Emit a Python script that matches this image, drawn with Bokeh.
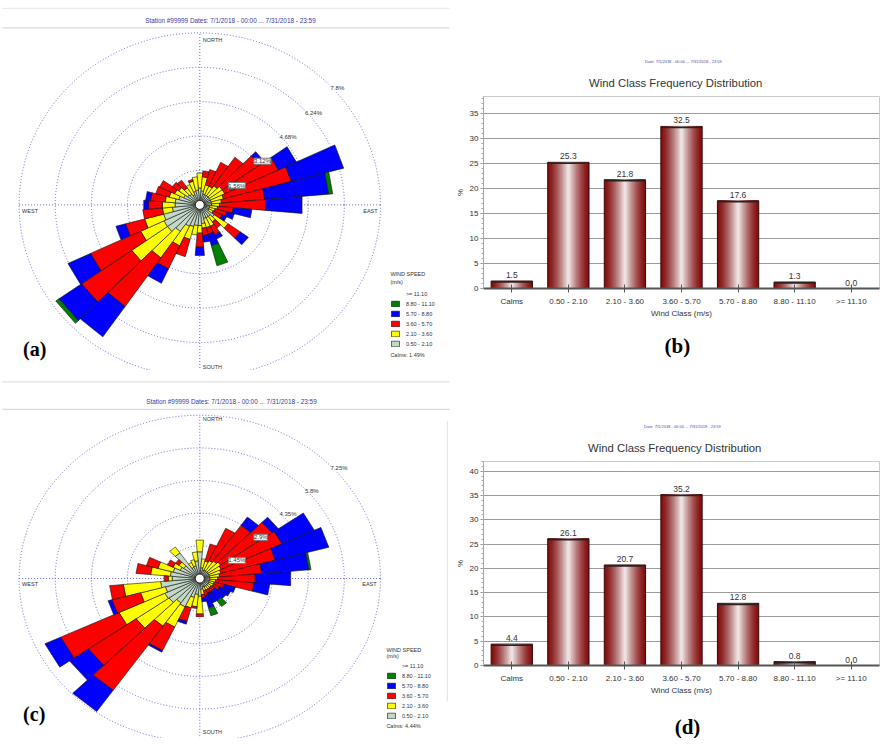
import math
from bokeh.plotting import figure
from bokeh.layouts import row, column
from bokeh.models import (Range1d, FactorRange, ColumnDataSource, Legend, LegendItem,
                          LabelSet, Title, SingleIntervalTicker)
from bokeh.core.properties import value
from bokeh.embed import file_html
from bokeh.resources import INLINE

# ---------------- data ----------------
DIRS = [0, 10, 20, 30, 40, 50, 60, 70, 80, 90, 100, 110, 120, 130, 140, 150, 160, 170,
        180, 190, 200, 210, 220, 230, 240, 250, 260, 270, 280, 290, 300, 310, 320, 330, 340, 350]

SPEED_LABELS = ["0.50 - 2.10", "2.10 - 3.60", "3.60 - 5.70", "5.70 - 8.80", "8.80 - 11.10", ">= 11.10"]
SPEED_COLORS = ["#c4d8c6", "#ffff00", "#ff0000", "#0000ff", "#008000", "#00ffff"]

# rose (a): frequency (%) per direction and speed class
A_050_210 = [0.77, 0.64, 0.51, 0.51, 0.51, 0.51, 0.51, 0.51, 0.51, 0.51, 0.43, 0.43, 0.43, 0.77, 0.64, 0.64, 0.64, 0.85,
             0.94, 0.94, 1.02, 1.07, 1.47, 1.71, 1.71, 1.62, 1.19, 1.07, 1.07, 0.94, 0.77, 0.64, 0.60, 0.51, 0.64, 0.68]
A_210_360 = [0.68, 0.64, 0.43, 0.43, 0.55, 0.68, 0.68, 0.55, 0.43, 0.34, 0.34, 0.26, 0.21, 0.72, 0.30, 0.43, 0.43, 0.21,
             0.34, 0.43, 0.60, 0.98, 1.46, 1.88, 1.11, 0.85, 0.43, 0.55, 0.43, 0.43, 0.43, 0.47, 0.34, 0.51, 0.47, 0.60]
A_360_570 = [0.00, 0.26, 0.72, 1.19, 1.58, 1.96, 2.56, 3.03, 1.88, 2.00, 0.68, 0.51, 0.43, 0.64, 0.34, 0.43, 0.30, 0.34,
             0.64, 0.00, 0.81, 1.15, 2.69, 2.64, 2.39, 0.85, 0.85, 0.60, 0.64, 0.60, 0.72, 0.34, 0.43, 0.00, 0.09, 0.00]
A_570_880 = [0.00, 0.00, 0.00, 0.00, 0.00, 0.26, 0.85, 2.34, 2.77, 1.58, 0.81, 0.34, 0.21, 0.43, 0.00, 0.21, 0.55, 0.30,
             0.38, 0.00, 0.00, 0.72, 1.68, 1.19, 1.07, 0.43, 0.00, 0.21, 0.21, 0.00, 0.00, 0.00, 0.00, 0.00, 0.00, 0.00]
A_880_1110 = [0.00, 0.00, 0.00, 0.00, 0.00, 0.00, 0.00, 0.00, 0.17, 0.00, 0.00, 0.00, 0.00, 0.00, 0.00, 0.00, 0.94, 0.00,
              0.00, 0.00, 0.00, 0.00, 0.00, 0.17, 0.00, 0.00, 0.00, 0.00, 0.00, 0.00, 0.00, 0.00, 0.00, 0.00, 0.00, 0.00]
A_GE_1110 = [0.00, 0.00, 0.00, 0.00, 0.00, 0.00, 0.00, 0.00, 0.00, 0.00, 0.00, 0.00, 0.00, 0.00, 0.00, 0.00, 0.00, 0.00,
             0.00, 0.00, 0.00, 0.00, 0.00, 0.00, 0.00, 0.00, 0.00, 0.00, 0.00, 0.00, 0.00, 0.00, 0.00, 0.00, 0.00, 0.00]
A_RINGS = [1.56, 3.12, 4.68, 6.24, 7.8]
A_RING_TEXT = ["1.56%", "3.12%", "4.68%", "6.24%", "7.8%"]
A_CALMS = "Calms: 1.49%"

# rose (c)
C_050_210 = [1.19, 0.48, 0.40, 0.40, 0.40, 0.40, 0.40, 0.40, 0.40, 0.40, 0.40, 0.40, 0.40, 0.40, 0.40, 0.40, 0.40, 0.48,
             0.79, 0.71, 0.87, 1.39, 1.32, 1.51, 1.55, 1.43, 1.58, 1.11, 1.19, 1.11, 0.87, 0.79, 1.39, 0.55, 0.59, 0.79]
C_210_360 = [0.52, 0.40, 0.40, 0.48, 0.55, 0.63, 0.55, 0.48, 0.40, 0.32, 0.24, 0.20, 0.20, 0.16, 0.16, 0.16, 0.16, 0.24,
             0.79, 0.55, 0.48, 0.99, 1.26, 1.61, 2.03, 1.03, 1.50, 0.16, 0.79, 0.63, 0.32, 0.24, 0.32, 0.24, 0.28, 0.40]
C_360_570 = [0.00, 0.00, 0.79, 1.58, 1.94, 2.50, 2.69, 2.26, 1.70, 1.51, 1.55, 0.40, 0.28, 0.16, 0.16, 0.16, 0.24, 0.16,
             0.12, 0.08, 0.63, 1.15, 3.48, 2.33, 2.58, 1.19, 0.55, 0.16, 0.59, 0.48, 0.24, 0.16, 0.00, 0.00, 0.00, 0.00]
C_570_880 = [0.00, 0.00, 0.00, 0.00, 0.44, 0.32, 1.43, 2.22, 1.90, 1.43, 0.63, 0.48, 0.48, 0.55, 0.48, 0.48, 0.55, 0.16,
             0.00, 0.00, 0.12, 0.08, 1.15, 0.93, 0.70, 0.16, 0.00, 0.00, 0.00, 0.00, 0.00, 0.00, 0.00, 0.00, 0.00, 0.00]
C_880_1110 = [0.00, 0.00, 0.00, 0.00, 0.00, 0.00, 0.00, 0.00, 0.08, 0.00, 0.00, 0.00, 0.00, 0.00, 0.32, 0.00, 0.36, 0.00,
              0.00, 0.00, 0.00, 0.00, 0.00, 0.00, 0.00, 0.00, 0.00, 0.00, 0.00, 0.00, 0.00, 0.00, 0.00, 0.00, 0.00, 0.00]
C_GE_1110 = [0.00, 0.00, 0.00, 0.00, 0.00, 0.00, 0.00, 0.00, 0.00, 0.00, 0.00, 0.00, 0.00, 0.00, 0.00, 0.00, 0.00, 0.00,
             0.00, 0.00, 0.00, 0.00, 0.00, 0.00, 0.00, 0.00, 0.00, 0.00, 0.00, 0.00, 0.00, 0.00, 0.00, 0.00, 0.00, 0.00]
C_RINGS = [1.45, 2.9, 4.35, 5.8, 7.25]
C_RING_TEXT = ["1.45%", "2.9%", "4.35%", "5.8%", "7.25%"]
C_CALMS = "Calms: 4.44%"

ROSE_TITLE = "Station #99999  Dates: 7/1/2018 - 00:00 ... 7/31/2018 - 23:59"

# bar charts
WIND_CLASSES = ["Calms", "0.50 - 2.10", "2.10 - 3.60", "3.60 - 5.70", "5.70 - 8.80", "8.80 - 11.10", ">= 11.10"]
B_VALUES = [1.5, 25.3, 21.8, 32.5, 17.6, 1.3, 0.0]
D_VALUES = [4.4, 26.1, 20.7, 35.2, 12.8, 0.8, 0.0]
BAR_TITLE = "Wind Class Frequency Distribution"
BAR_SUBTITLE = "Date: 7/1/2018 - 00:00 ... 7/31/2018 - 23:59"

FONT = "Liberation Sans"
SERIF = "Liberation Serif"


def txt(p, x, y, s, size, color="#333333", align="left", baseline="middle", font=FONT, style="normal"):
    p.text(x=[x], y=[y], text=[s], text_font=value(font), text_font_size=size, text_color=color,
           text_align=align, text_baseline=baseline, text_font_style=style)


def build_rose(W, H, cx, cy, rx, ry, classes, rings, ring_text, calms, panel, pos):
    rmax = rings[-1]
    sx = rx / rmax
    sy = ry / rmax
    X = lambda px: (px - cx) / sx
    Y = lambda py: (cy - py) / sy
    p = figure(width=W, height=H, x_range=Range1d(X(0), X(W)), y_range=Range1d(Y(H), Y(0)),
               output_backend="svg", toolbar_location=None, title=None,
               x_axis_location=None, y_axis_location=None, min_border=0)
    p.grid.visible = False
    p.outline_line_color = None
    p.background_fill_color = "white"

    ring_col = "#6a6ad2"
    p.ellipse(x=[0] * len(rings), y=[0] * len(rings), width=[2 * r for r in rings],
              height=[2 * r for r in rings], fill_color=None, line_color=ring_col,
              line_width=1, line_dash="1 2")
    p.segment(x0=[0, -rmax], y0=[-rmax, 0], x1=[0, rmax], y1=[rmax, 0],
              line_color=ring_col, line_width=1, line_dash="1 2")

    half = 5.0
    cum = [0.0] * len(DIRS)
    rends = []
    for vals, col in zip(classes, SPEED_COLORS):
        xs, ys = [], []
        for i, d in enumerate(DIRS):
            r0 = cum[i]
            r1 = r0 + vals[i]
            if vals[i] > 0:
                a0 = math.radians(d - half)
                a1 = math.radians(d + half)
                xs.append([r0 * math.sin(a0), r1 * math.sin(a0), r1 * math.sin(a1), r0 * math.sin(a1)])
                ys.append([r0 * math.cos(a0), r1 * math.cos(a0), r1 * math.cos(a1), r0 * math.cos(a1)])
            cum[i] = r1
        rends.append(p.patches(xs=xs, ys=ys, fill_color=col, line_color="#111111", line_width=0.6))

    p.scatter(x=[0], y=[0], size=9, marker="circle", fill_color="white", line_color="#222222", line_width=1)

    # ring labels
    s45 = math.sin(math.radians(45))
    lx = [r * s45 + 3 / sx for r in rings]
    ly = [r * s45 - 2 / sy for r in rings]
    src1 = ColumnDataSource(dict(x=lx[:2], y=ly[:2], t=ring_text[:2]))
    src2 = ColumnDataSource(dict(x=lx[2:], y=ly[2:], t=ring_text[2:]))
    for src, border in ((src1, "#777777"), (src2, None)):
        p.add_layout(LabelSet(x="x", y="y", text="t", source=src, text_font=value(FONT),
                              text_font_size="6px", text_color="#333333", text_align="left",
                              text_baseline="top", background_fill_color="white",
                              border_line_color=border))

    # header
    tx, ty = pos["title"]
    txt(p, X(tx), Y(ty), ROSE_TITLE, "6.4px", color="#3a3aa6", align="center")
    for ly_, col in pos["lines"]:
        p.line(x=[X(2), X(449)], y=[Y(ly_), Y(ly_)], line_color=col, line_width=1)
    if "vline" in pos:
        v = pos["vline"]
        p.line(x=[X(v[0]), X(v[0])], y=[Y(v[1]), Y(v[2])], line_color="#e0e0e0", line_width=1)

    # compass labels
    txt(p, X(cx + 3), Y(pos["north"]), "NORTH", "5.5px")
    txt(p, X(cx + 3), Y(pos["south"]), "SOUTH", "5.5px")
    txt(p, X(pos["west_x"]), Y(pos["we"]), "WEST", "5.5px")
    txt(p, X(pos["east_x"]), Y(pos["we"]), "EAST", "5.5px", align="right")

    # legend
    lgx, lgy = pos["legend"]
    items = [LegendItem(label=value(SPEED_LABELS[k]), renderers=[rends[k]]) for k in range(5, -1, -1)]
    leg = Legend(items=items, location=(lgx, lgy), orientation="vertical", glyph_width=10,
                 glyph_height=7, label_height=7, spacing=3, padding=0, margin=0, label_standoff=6,
                 label_text_font_size="5.5px", label_text_font=FONT, label_text_color="#333333",
                 border_line_color=None, background_fill_alpha=0)
    p.add_layout(leg)
    txt(p, X(lgx), Y(pos["ws"][0]), "WIND SPEED", "5.5px")
    txt(p, X(lgx), Y(pos["ws"][1]), "(m/s)", "5.5px")
    txt(p, X(lgx), Y(pos["calms"]), calms, "5.5px")

    px_, py_ = pos["panel"]
    txt(p, X(px_), Y(py_), panel, "20px", color="#000000", font=SERIF, style="bold")
    return p


def mix(c0, c1, t):
    return "#%02x%02x%02x" % tuple(int(round(a + (b - a) * t)) for a, b in zip(c0, c1))


def build_bar(W, H, vals, ymax, mb, cap, offs, panel=None):
    src = ColumnDataSource(dict(cls=WIND_CLASSES, val=vals, capb=[v - cap for v in vals],
                                txt=["%.1f" % v for v in vals]))
    p = figure(width=W, height=H, x_range=FactorRange(factors=WIND_CLASSES), y_range=Range1d(0, ymax),
               output_backend="svg", toolbar_location=None, title=None,
               min_border_left=mb[0], min_border_right=mb[1], min_border_top=mb[2], min_border_bottom=mb[3])
    p.outline_line_color = "#cccccc"
    p.background_fill_color = "white"
    p.xgrid.visible = False
    ticker = SingleIntervalTicker(interval=5, num_minor_ticks=5)
    p.yaxis.ticker = ticker
    p.ygrid.ticker = ticker
    p.ygrid.grid_line_color = "#9c9c9c"
    p.ygrid.grid_line_width = 1

    edge = (130, 14, 14)
    center = (242, 236, 236)
    BW = 0.73
    NL = 16
    for k in range(NL):
        u = 1 - k / NL
        um = u - 0.5 / NL
        t = (1 - um) ** 1.4
        p.vbar(x="cls", top="val", width=BW * u, source=src, fill_color=mix(edge, center, t),
               line_color="#3a0505" if k == 0 else None, line_width=1)
    p.vbar(x="cls", top="val", bottom="capb", width=BW, source=src, fill_color="#2a2222", line_color=None)

    p.add_layout(LabelSet(x="cls", y="val", text="txt", source=src, y_offset=3, text_align="center",
                          text_baseline="bottom", text_font=value(FONT), text_font_size="8.5px",
                          text_color="#333333"))

    ya = p.yaxis[0]
    ya.axis_label = "%"
    ya.axis_label_text_font = FONT
    ya.axis_label_text_font_size = "8px"
    ya.axis_label_text_font_style = "normal"
    ya.axis_label_text_color = "#333333"
    ya.axis_label_standoff = 2
    ya.major_label_standoff = 2
    ya.major_label_text_font = FONT
    ya.major_label_text_font_size = "8px"
    ya.major_label_text_color = "#333333"
    ya.axis_line_color = "#a8a8a8"
    ya.major_tick_line_color = "#888888"
    ya.minor_tick_line_color = "#aaaaaa"
    ya.major_tick_in = 0
    ya.major_tick_out = 3
    ya.minor_tick_in = 0
    ya.minor_tick_out = 2

    xa = p.xaxis[0]
    xa.axis_label = "Wind Class (m/s)"
    xa.axis_label_text_font = FONT
    xa.axis_label_text_font_size = "8px"
    xa.axis_label_text_font_style = "normal"
    xa.axis_label_text_color = "#333333"
    xa.axis_label_standoff = 0
    xa.major_label_standoff = 4
    xa.major_label_text_font = FONT
    xa.major_label_text_font_size = "8px"
    xa.major_label_text_color = "#333333"
    xa.axis_line_color = "#555555"
    xa.axis_line_width = 2
    xa.major_tick_line_color = "#555555"
    xa.major_tick_in = 4
    xa.major_tick_out = 4

    p.add_layout(Title(text=BAR_TITLE, text_font=FONT, text_font_size="11.3px", text_font_style="normal",
                       text_color="#333333", align="left", offset=offs[0], standoff=16), "above")
    p.add_layout(Title(text=BAR_SUBTITLE, text_font=FONT, text_font_size="4px", text_font_style="normal",
                       text_color="#4a4aa8", align="left", offset=offs[1], standoff=5), "above")
    if panel is not None:
        p.add_layout(Title(text=panel, text_font=SERIF, text_font_size="21px", text_font_style="bold",
                           text_color="#000000", align="left", offset=offs[2], standoff=22), "below")
    return p


def build_tag(W, H, text, x, y):
    p = figure(width=W, height=H, x_range=Range1d(0, W), y_range=Range1d(0, H),
               output_backend="svg", toolbar_location=None, title=None,
               x_axis_location=None, y_axis_location=None, min_border=0)
    p.grid.visible = False
    p.outline_line_color = None
    txt(p, x, H - y, text, "21px", color="#000000", align="center", font=SERIF, style="bold")
    return p


rose_a = build_rose(452, 370, 199.3, 204.4, 180.7, 172.1,
                    [A_050_210, A_210_360, A_360_570, A_570_880, A_880_1110, A_GE_1110],
                    A_RINGS, A_RING_TEXT, A_CALMS, "(a)",
                    dict(title=(230.8, 19.6), lines=[(7.8, "#e6e6e6"), (27.4, "#d2d2d2")],
                         north=39.6, south=366.2, we=210.8, west_x=21.6, east_x=377.1,
                         legend=(389.9, 23), ws=(273.8, 281.7), calms=354.0, panel=(22.6, 348.7)))
rose_c = build_rose(452, 368, 199.3, 208.0, 180.7, 163.3,
                    [C_050_210, C_210_360, C_360_570, C_570_880, C_880_1110, C_GE_1110],
                    C_RINGS, C_RING_TEXT, C_CALMS, "(c)",
                    dict(title=(231.8, 31.0), lines=[(11.4, "#d8d8d8"), (38.8, "#d2d2d2")],
                         north=48.6, south=361.5, we=213.6, west_x=21.6, east_x=376.1,
                         legend=(385.9, 19), ws=(279.4, 285.6), calms=355.7, panel=(22.6, 343.0),
                         vline=(446.8, 50.5, 331.0)))

bar_b = build_bar(428, 370, B_VALUES, 38.5, (25, 1, 96, 82), 0.35, (105.6, 161.6, 181.0), "(b)")
bar_d = build_bar(428, 338, D_VALUES, 42.0, (26, 1, 91, 43), 0.38, (104.6, 160.6))
tag_d = build_tag(428, 30, "(d)", 220.5, 18.2)

layout = row(column(rose_a, rose_c), column(bar_b, bar_d, tag_d))
open("out.html", "w").write(file_html(layout, INLINE))
